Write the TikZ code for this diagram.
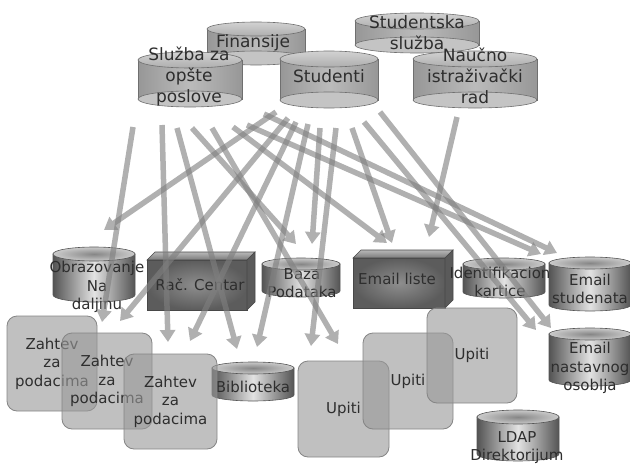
\documentclass[tikz,border=0pt]{standalone}
\usepackage{fontspec}
\setmainfont{DejaVu Sans}
\usetikzlibrary{arrows.meta}

\definecolor{txt}{HTML}{2E2E2E}
\definecolor{upSide}{HTML}{979797}
\definecolor{upMid}{HTML}{BBBBBB}
\definecolor{upEdge}{HTML}{6F6F6F}
\definecolor{upBottom}{HTML}{C4C4C4}
\definecolor{upTopA}{HTML}{D2D2D2}
\definecolor{upTopB}{HTML}{AEAEAE}
\definecolor{lowSide}{HTML}{545454}
\definecolor{lowMid}{HTML}{E2E2E2}
\definecolor{lowEdge}{HTML}{555555}
\definecolor{lowTopIn}{HTML}{868686}
\definecolor{lowTopOut}{HTML}{CACACA}
\definecolor{boxIn}{HTML}{8E8E8E}
\definecolor{boxOut}{HTML}{5C5C5C}
\definecolor{boxEdge}{HTML}{484848}
\definecolor{boxTopA}{HTML}{B8B8B8}
\definecolor{boxTopB}{HTML}{7A7A7A}
\definecolor{boxSide}{HTML}{5A5A5A}
\definecolor{reqFill}{HTML}{999999}
\definecolor{reqEdge}{HTML}{858585}
\definecolor{flowGray}{HTML}{7F7F7F}

\tikzset{
  uptxt/.style={align=center, text=txt, font=\fontsize{17}{21}\selectfont, inner sep=0pt},
  lowtxt/.style={align=center, text=txt, font=\fontsize{15}{18.5}\selectfont, inner sep=0pt},
  reqbox/.style={draw=reqEdge, line width=0.8pt, fill=reqFill, fill opacity=0.62,
    text opacity=1, text=txt, rounded corners=10pt, align=center,
    font=\fontsize{15}{18.5}\selectfont, inner sep=0pt},
  flow/.style={draw=flowGray, line width=5.5pt, -{Triangle[width=15pt,length=12pt]}},
}

% light cylinder: centre x, top y, bottom y, x radius, y radius
\newcommand\uppercyl[5]{%
  \shadedraw[left color=upSide, right color=upSide, middle color=upMid, draw=upEdge, line width=.6pt]
    (#1-#4,#2) -- (#1-#4,#3) -- (#1+#4,#3) -- (#1+#4,#2) -- cycle;
  \filldraw[fill=upBottom, draw=upEdge, line width=.6pt] (#1,#3) ellipse [x radius=#4, y radius=#5];
  \shadedraw[top color=upTopA, bottom color=upTopB, draw=upEdge, line width=.6pt]
    (#1,#2) ellipse [x radius=#4, y radius=#5];
}
% glossy cylinder: centre x, top y, bottom y, x radius, y radius
\newcommand\glosscyl[5]{%
  \shadedraw[left color=lowSide, right color=lowSide, middle color=lowMid, draw=lowEdge, line width=.6pt]
    (#1-#4,#2) -- (#1-#4,#3) arc[start angle=180, end angle=0, x radius=#4, y radius=#5]
    -- (#1+#4,#2) -- cycle;
  \shadedraw[inner color=lowTopIn, outer color=lowTopOut, draw=lowEdge, line width=.6pt]
    (#1,#2) ellipse [x radius=#4, y radius=#5];
}
% block with bevelled top and side: front x1, y1, x2, y2, depth
\newcommand\blockbox[5]{%
  \shadedraw[inner color=boxIn, outer color=boxOut, draw=boxEdge, line width=.6pt] (#1,#2) rectangle (#3,#4);
  \shadedraw[top color=boxTopA, bottom color=boxTopB, draw=boxEdge, line width=.6pt]
    (#1,#2) -- (#1+#5,#2-#5) -- (#3+#5,#2-#5) -- (#3,#2) -- cycle;
  \filldraw[fill=boxSide, draw=boxEdge, line width=.6pt]
    (#3,#2) -- (#3+#5,#2-#5) -- (#3+#5,#4-#5) -- (#3,#4) -- cycle;
}
\newcommand\flowline[2]{%
  \begin{scope}[transparency group, opacity=.62]
    \draw[flow] (#1) -- (#2);
  \end{scope}}

\begin{document}
\begin{tikzpicture}[x=1pt,y=-1pt]
\useasboundingbox (0,0) rectangle (630,466);

% upper row of data stores
\uppercyl{256}{29}{58}{49}{7}
\uppercyl{417}{21}{45}{62}{8}
\uppercyl{190}{60}{99}{52}{8}
\uppercyl{329}{59}{100}{49}{8}
\uppercyl{475}{59}{100}{62}{8}

\node[uptxt] (finansije) at (253,43) {Finansije};
\node[uptxt] (studsluzba) at (417,32.5) {Studentska\\služba};
\node[uptxt] (sluzba) at (189,76) {Služba za\\opšte\\poslove};
\node[uptxt] (studenti) at (329,76) {Studenti};
\node[uptxt] (naucno) at (475,76) {Naučno\\istraživački\\rad};

% lower systems
\glosscyl{94}{254}{295}{41}{7}
\blockbox{147}{260}{247}{310}{8}
\glosscyl{301}{264}{291}{39}{6}
\blockbox{353}{258}{445}{308}{8}
\glosscyl{504}{264}{292}{41}{6}
\glosscyl{590}{263}{305}{41}{6}
\glosscyl{590}{334}{380}{41}{6}
\glosscyl{518}{417}{454}{41}{7}
\glosscyl{253}{368}{395}{41}{6}

\node[lowtxt] (obraz) at (97,287) {Obrazovanje\\Na\\daljinu};
\node[lowtxt] (racc) at (200,285) {Rač. Centar};
\node[lowtxt] (baza) at (302,283) {Baza\\Podataka};
\node[lowtxt] (emliste) at (397,279) {Email liste};
\node[lowtxt] (ident) at (500,282) {Identifikacion\\kartice};
\node[lowtxt] (emstud) at (590,289) {Email\\studenata};
\node[lowtxt] (emnast) at (590,368) {Email\\nastavnog\\osoblja};
\node[lowtxt] (ldap) at (517,447.5) {LDAP\\Direktorijum};
\node[lowtxt] (bibl) at (253,387) {Biblioteka};

% requests and queries
\node[reqbox, minimum width=90pt, minimum height=95pt] (zah1) at (52,363.5) {Zahtev\\za\\podacima};
\node[reqbox, minimum width=90pt, minimum height=96pt] (zah2) at (107,381) {Zahtev\\za\\podacima};
\node[reqbox, minimum width=93pt, minimum height=95pt] (zah3) at (170.5,401.5) {Zahtev\\za\\podacima};
\node[reqbox, minimum width=91pt, minimum height=96pt] (upi1) at (343.5,409) {Upiti};
\node[reqbox, minimum width=90pt, minimum height=96pt] (upi2) at (408,381) {Upiti};
\node[reqbox, minimum width=90pt, minimum height=95pt] (upi3) at (472,355.5) {Upiti};

% flow ends
\coordinate (sl1) at (133,127);
\coordinate (sl2) at (162,125);
\coordinate (sl3) at (177,128);
\coordinate (sl4) at (192,128);
\coordinate (sl5) at (212,128);
\coordinate (sl6) at (233,127);
\coordinate (sl7) at (247,125);
\coordinate (st1) at (264,114);
\coordinate (st2) at (276,112);
\coordinate (st3) at (288,118);
\coordinate (st4) at (296,122);
\coordinate (st5) at (308,124);
\coordinate (st6) at (320,128);
\coordinate (st7) at (336,128);
\coordinate (st8) at (352,128);
\coordinate (st9) at (364,122);
\coordinate (st10) at (380,112);
\coordinate (na1) at (457,117);

\coordinate (obrazIn) at (104,230);
\coordinate (zah1In) at (102,322);
\coordinate (zah1Inb) at (120,321);
\coordinate (zah3In) at (168,342);
\coordinate (zah3Inb) at (190,341);
\coordinate (biblIn) at (237,349);
\coordinate (biblInb) at (257,347);
\coordinate (bazaIn) at (296,244);
\coordinate (bazaInb) at (312,244);
\coordinate (upi1In) at (311,346);
\coordinate (upi1Inb) at (338,344);
\coordinate (listIn) at (387,243);
\coordinate (listInb) at (392,243);
\coordinate (listInc) at (429,237);
\coordinate (studIn) at (541,254);
\coordinate (studInb) at (557,253);
\coordinate (nastIn) at (536,330);
\coordinate (nastInb) at (551,328);

\flowline{st2}{obrazIn}
\flowline{sl1}{zah1In}
\flowline{st3}{zah1Inb}
\flowline{sl2}{zah3In}
\flowline{st4}{zah3Inb}
\flowline{sl3}{biblIn}
\flowline{st5}{biblInb}
\flowline{sl4}{bazaIn}
\flowline{st6}{bazaInb}
\flowline{st7}{upi1In}
\flowline{sl5}{upi1Inb}
\flowline{sl6}{listIn}
\flowline{st8}{listInb}
\flowline{na1}{listInc}
\flowline{sl7}{studIn}
\flowline{st1}{studInb}
\flowline{st9}{nastIn}
\flowline{st10}{nastInb}
\end{tikzpicture}
\end{document}
